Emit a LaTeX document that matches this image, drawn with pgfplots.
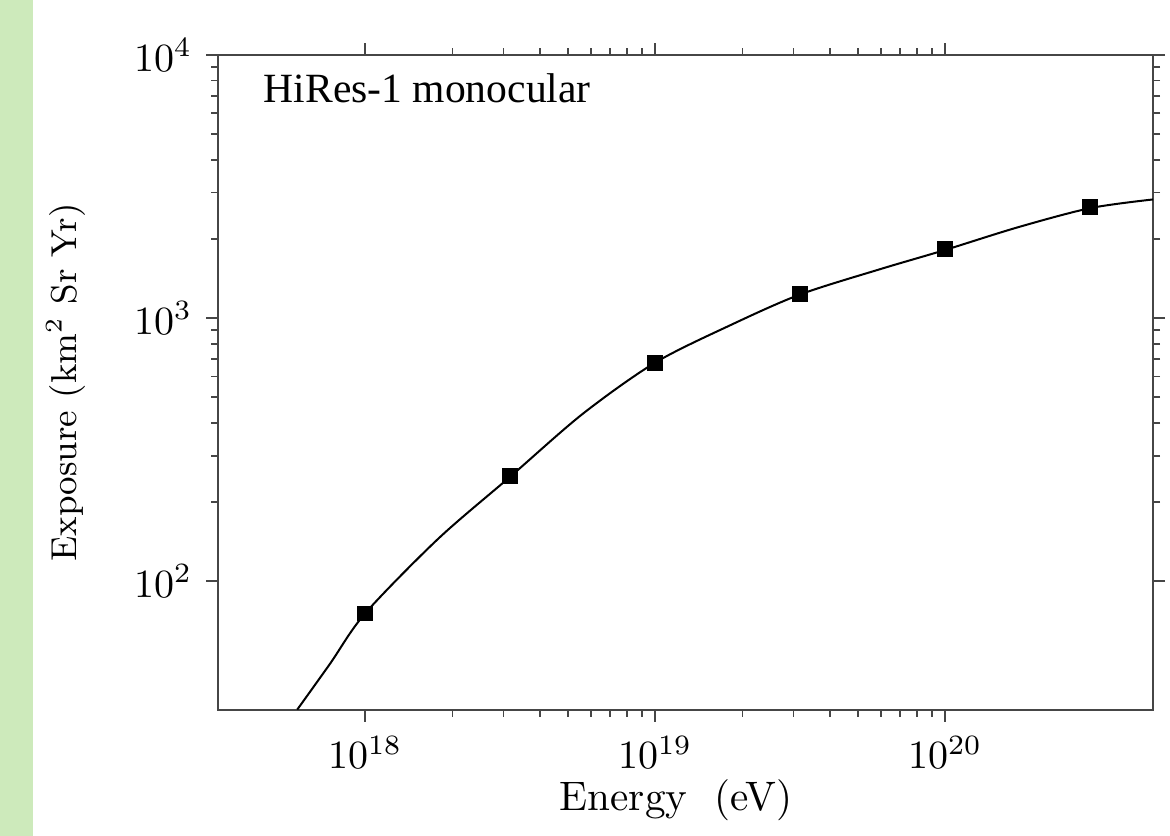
\documentclass[border=0pt]{standalone}
\usepackage{pgfplots}
\pgfplotsset{compat=1.18}
\usepackage{fontspec}
\newfontfamily\timesfont{Liberation Serif}
\definecolor{stripgreen}{RGB}{205,234,187}
\definecolor{axisgray}{RGB}{70,70,70}
\begin{document}
\begin{tikzpicture}[x=1pt,y=1pt]
\useasboundingbox (0,0) rectangle (292.5,209);
\fill[stripgreen] (0,0) rectangle (8.25,209);
\begin{axis}[
  at={(54.5pt,31.5pt)}, anchor=south west,
  scale only axis, width=233.75pt, height=163.75pt,
  xmode=log, ymode=log,
  xmin=3.11e17, xmax=5.21e20,
  ymin=32.4, ymax=1e4,
  xtick={1e18,1e19,1e20},
  ytick={1e2,1e3,1e4},
  tick align=outside,
  major tick length=3pt,
  minor tick length=1.75pt,
  axis line style={axisgray, line width=0.5pt},
  every tick/.style={axisgray, line width=0.45pt},
  xticklabel pos=lower, yticklabel pos=left,
  tick label style={font=\fontsize{9.6}{11}\selectfont},
  xlabel={Energy\ \ (eV)},
  ylabel={Exposure (km$^2$ Sr Yr)},
  xlabel style={at={(axis description cs:0.49,-0.153)}, anchor=base, font=\fontsize{10.3}{12}\selectfont},
  ylabel style={at={(axis description cs:-0.1626,0.5)}, anchor=center, font=\fontsize{9}{11}\selectfont},
  clip=true,
]
\addplot[black, line width=0.5pt, smooth, tension=0.5] coordinates {
  (5.83e17,32.5) (7.57e17,48.6) (1e18,75.5) (1.786e18,145)
  (3.162e18,249.5) (5.623e18,432.5) (1e19,677.5) (1.816e19,939.7)
  (3.162e19,1230) (5.97e19,1535) (1e20,1816) (1.778e20,2213)
  (3.162e20,2618) (5.21e20,2825)
};
\addplot[only marks, mark=square*, mark size=1.75pt, black] coordinates {
  (1e18,75.5) (3.162e18,251) (1e19,674) (3.162e19,1233) (1e20,1829) (3.162e20,2645)
};
\node[anchor=base west, font=\timesfont\fontsize{10.4}{12}\selectfont, inner sep=0pt]
  at (rel axis cs:0.048,0.927) {HiRes-1 monocular};
\end{axis}
\end{tikzpicture}
\end{document}
